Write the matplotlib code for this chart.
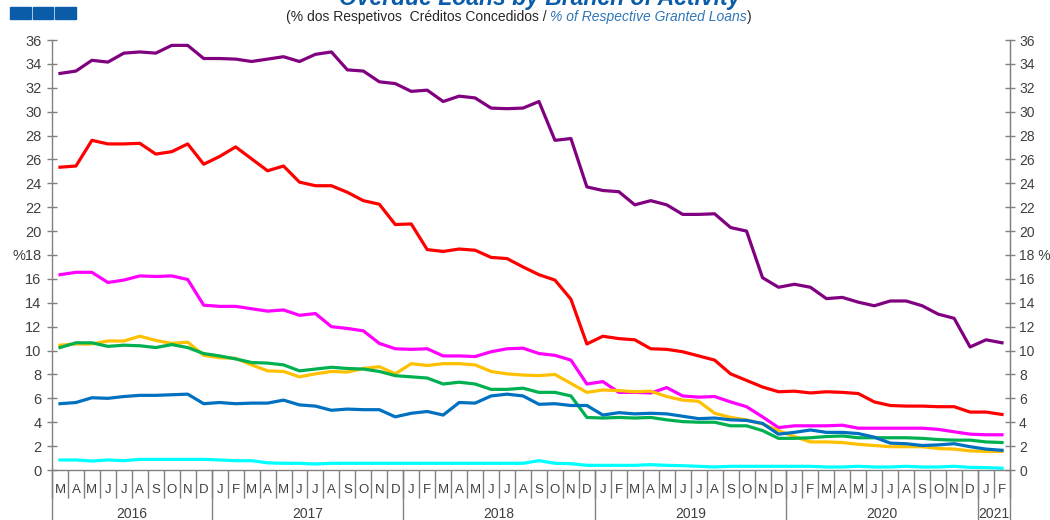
import matplotlib
matplotlib.use('Agg')
import matplotlib.pyplot as plt
import matplotlib.transforms as mtransforms
from matplotlib.patches import Rectangle
import numpy as np

plt.rcParams['font.family'] = ['Liberation Sans', 'DejaVu Sans']

# months from March 2016 to February 2021
month_letters = ['M', 'A', 'M', 'J', 'J', 'A', 'S', 'O', 'N', 'D'] + \
    ['J', 'F', 'M', 'A', 'M', 'J', 'J', 'A', 'S', 'O', 'N', 'D'] * 4 + ['J', 'F']
years = ['2016', '2017', '2018', '2019', '2020', '2021']
year_starts = [0, 10, 22, 34, 46, 58]

purple = [33.2, 33.4, 34.3, 34.15, 34.9, 35.0, 34.9, 35.55, 35.55, 34.45,
          34.45, 34.4, 34.2, 34.4, 34.6, 34.2, 34.8, 35.0, 33.5, 33.4, 32.5, 32.35,
          31.7, 31.8, 30.85, 31.3, 31.15, 30.3, 30.25, 30.3, 30.85, 27.6, 27.75, 23.7,
          23.4, 23.3, 22.2, 22.55, 22.2, 21.4, 21.4, 21.45, 20.3, 20.0, 16.1, 15.3,
          15.55, 15.3, 14.35, 14.45, 14.05, 13.75, 14.15, 14.15, 13.75, 13.05, 12.7, 10.3,
          10.9, 10.65]
red = [25.35, 25.45, 27.6, 27.3, 27.3, 27.35, 26.45, 26.65, 27.3, 25.6,
       26.25, 27.05, 26.05, 25.05, 25.45, 24.1, 23.8, 23.8, 23.25, 22.55, 22.25, 20.55,
       20.6, 18.45, 18.3, 18.5, 18.4, 17.8, 17.7, 17.0, 16.35, 15.9, 14.3, 10.55,
       11.2, 11.0, 10.9, 10.15, 10.1, 9.9, 9.55, 9.2, 8.05, 7.5, 6.95, 6.55,
       6.6, 6.45, 6.55, 6.5, 6.4, 5.7, 5.4, 5.35, 5.35, 5.3, 5.3, 4.85,
       4.85, 4.65]
magenta = [16.35, 16.55, 16.55, 15.7, 15.9, 16.25, 16.2, 16.25, 15.95, 13.8,
           13.7, 13.7, 13.5, 13.3, 13.4, 12.95, 13.1, 12.0, 11.85, 11.65, 10.6, 10.15,
           10.1, 10.15, 9.55, 9.55, 9.5, 9.9, 10.15, 10.2, 9.75, 9.6, 9.2, 7.2,
           7.4, 6.5, 6.5, 6.45, 6.9, 6.2, 6.1, 6.15, 5.7, 5.3, 4.45, 3.55,
           3.7, 3.7, 3.7, 3.75, 3.5, 3.5, 3.5, 3.5, 3.5, 3.4, 3.2, 3.0,
           2.95, 2.95]
yellow = [10.45, 10.55, 10.55, 10.8, 10.8, 11.2, 10.85, 10.6, 10.7, 9.6,
          9.4, 9.35, 8.8, 8.3, 8.25, 7.8, 8.05, 8.25, 8.2, 8.5, 8.65, 8.05,
          8.9, 8.75, 8.9, 8.9, 8.8, 8.25, 8.05, 7.95, 7.9, 8.0, 7.25, 6.5,
          6.7, 6.65, 6.55, 6.6, 6.15, 5.85, 5.75, 4.75, 4.4, 4.2, 3.85, 3.3,
          2.8, 2.35, 2.35, 2.3, 2.15, 2.05, 1.95, 1.95, 1.95, 1.8, 1.75, 1.6,
          1.55, 1.55]
green = [10.25, 10.65, 10.65, 10.35, 10.45, 10.4, 10.25, 10.5, 10.25, 9.75,
         9.55, 9.3, 9.0, 8.95, 8.8, 8.3, 8.45, 8.6, 8.5, 8.45, 8.25, 7.9,
         7.8, 7.7, 7.2, 7.35, 7.2, 6.75, 6.75, 6.85, 6.5, 6.5, 6.2, 4.4,
         4.35, 4.4, 4.35, 4.4, 4.2, 4.05, 4.0, 4.0, 3.7, 3.7, 3.3, 2.65,
         2.65, 2.7, 2.8, 2.85, 2.7, 2.7, 2.7, 2.7, 2.65, 2.55, 2.5, 2.5,
         2.35, 2.3]
blue = [5.55, 5.65, 6.05, 6.0, 6.15, 6.25, 6.25, 6.3, 6.35, 5.55,
        5.65, 5.55, 5.6, 5.6, 5.85, 5.45, 5.35, 5.0, 5.1, 5.05, 5.05, 4.45,
        4.75, 4.9, 4.6, 5.65, 5.6, 6.2, 6.35, 6.2, 5.5, 5.55, 5.4, 5.4,
        4.6, 4.8, 4.7, 4.75, 4.7, 4.5, 4.3, 4.35, 4.2, 4.15, 3.9, 3.0,
        3.15, 3.35, 3.15, 3.15, 3.05, 2.75, 2.25, 2.2, 2.05, 2.1, 2.2, 1.95,
        1.75, 1.65]
cyan = [0.84, 0.84, 0.75, 0.84, 0.78, 0.89, 0.89, 0.89, 0.89, 0.89,
        0.84, 0.78, 0.78, 0.6, 0.56, 0.56, 0.5, 0.56, 0.56, 0.56, 0.56, 0.56,
        0.56, 0.56, 0.56, 0.56, 0.56, 0.56, 0.56, 0.56, 0.78, 0.56, 0.53, 0.39,
        0.39, 0.39, 0.39, 0.45, 0.39, 0.36, 0.31, 0.25, 0.31, 0.31, 0.31, 0.31,
        0.31, 0.31, 0.25, 0.25, 0.31, 0.25, 0.25, 0.31, 0.25, 0.25, 0.31, 0.22,
        0.2, 0.15]

series = [(purple, '#800080'), (red, '#ff0000'), (magenta, '#ff00ff'),
          (yellow, '#ffc000'), (green, '#00b050'), (blue, '#0070c0'),
          (cyan, '#00ffff')]

x = np.arange(len(month_letters))
axis_col = '#808080'
text_col = '#404040'

fig = plt.figure(figsize=(10.5, 5.2), dpi=100)
ax = fig.add_axes([52 / 1050, 50 / 520, 958 / 1050, 430 / 520])

for vals, col in series:
    ax.plot(x, vals, color=col, lw=2.3, solid_joinstyle='round')

ax.set_xlim(-0.5, len(x) - 0.5)
ax.set_ylim(0, 36)
yt = np.arange(0, 37, 2)
ax.set_yticks(yt)
ax.set_yticklabels(['%18' if v == 18 else str(v) for v in yt])

ax.spines['top'].set_visible(False)
for s in ['left', 'right', 'bottom']:
    ax.spines[s].set_color(axis_col)
    ax.spines[s].set_linewidth(1.0)

ax.tick_params(axis='y', direction='inout', length=7, width=1, color=axis_col,
               labelsize=10.5, labelcolor=text_col, pad=4)

# month separators and letters
ax.set_xticks(np.arange(-0.5, len(x), 1.0))
ax.set_xticklabels([])
ax.set_xticks(x, minor=True)
ax.set_xticklabels(month_letters, minor=True)
ax.tick_params(axis='x', which='major', direction='out', length=20, width=1, color=axis_col)
ax.tick_params(axis='x', which='minor', length=0, labelsize=9.5, labelcolor=text_col, pad=10)

# right axis
ax2 = ax.twinx()
ax2.set_ylim(0, 36)
ax2.set_yticks(yt)
ax2.set_yticklabels(['18 %' if v == 18 else str(v) for v in yt])
ax2.tick_params(axis='y', direction='inout', length=7, width=1, color=axis_col,
                labelsize=10, labelcolor=text_col, pad=3)
for s in ['top', 'left', 'bottom']:
    ax2.spines[s].set_visible(False)
ax2.spines['right'].set_color(axis_col)

# year separators and labels
trans = mtransforms.blended_transform_factory(ax.transData, ax.transAxes)
bounds = year_starts + [len(x)]
for b in bounds:
    ax.plot([b - 0.5, b - 0.5], [0, -0.14], color=axis_col, lw=1.0,
            transform=trans, clip_on=False)
for k, yr in enumerate(years):
    cx = (bounds[k] + bounds[k + 1] - 1) / 2
    ax.text(cx, -0.102, yr, transform=trans, ha='center', va='center',
            fontsize=10, color=text_col)

# header
for k in range(3):
    fig.patches.append(Rectangle(((10 + k * 22.6) / 1050, 1 - 19 / 520), 20.5 / 1050, 12 / 520,
                                 transform=fig.transFigure, color='#0b5ca8', zorder=5))

fig.text(540 / 1050, 1 - 5 / 520, 'Overdue Loans by Branch of Activity', ha='center',
         va='baseline', fontsize=16.5, fontweight='bold', fontstyle='italic', color='#0b5ca8')

renderer = fig.canvas.get_renderer()
sub_y = 1 - 20.5 / 520
t1 = fig.text(286 / 1050, sub_y, '(% dos Respetivos  Créditos Concedidos / ', ha='left',
              va='baseline', fontsize=10, color='#262626')
bb = t1.get_window_extent(renderer)
t2 = fig.text(bb.x1 / 1050, sub_y, '% of Respective Granted Loans', ha='left',
              va='baseline', fontsize=10, fontstyle='italic', color='#2e75b6')
bb2 = t2.get_window_extent(renderer)
fig.text(bb2.x1 / 1050, sub_y, ')', ha='left', va='baseline', fontsize=10, color='#262626')

fig.savefig('out.png', dpi=100)
